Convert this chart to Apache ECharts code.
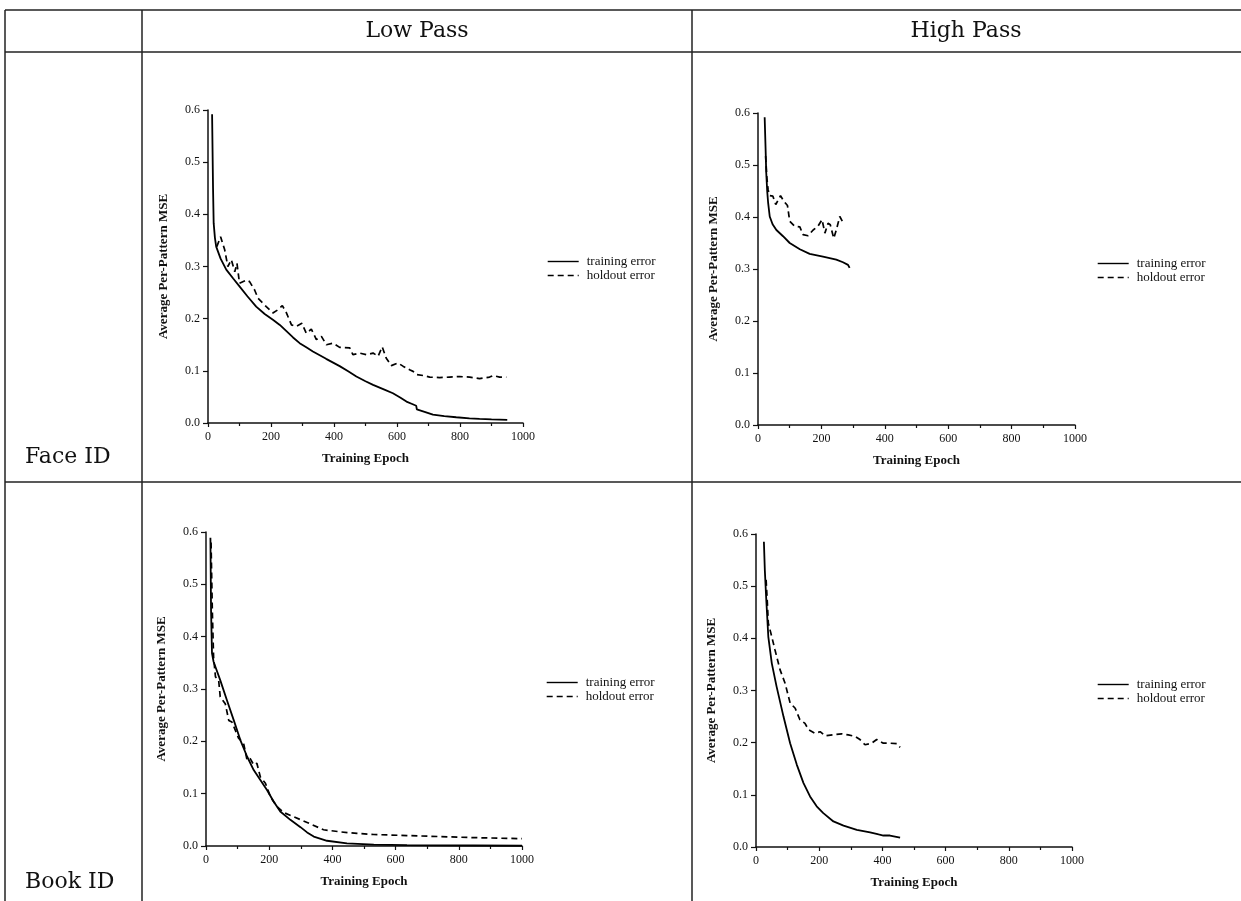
<!DOCTYPE html>
<html>
<head>
<meta charset="utf-8">
<script src="https://cdn.jsdelivr.net/npm/echarts@6/dist/echarts.min.js"></script>
<style>
html,body{margin:0;padding:0;background:#fff;}
#c{width:1241px;height:901px;}
</style>
</head>
<body>
<div id="c"></div>
<script>
// ---- data (epoch, average per-pattern MSE) ----
const colHeaders = ['Low Pass', 'High Pass'];
const rowHeaders = ['Face ID', 'Book ID'];
const seriesNames = ['training error', 'holdout error'];
const xTicks = [0, 200, 400, 600, 800, 1000];
const yTicks = [0.0, 0.1, 0.2, 0.3, 0.4, 0.5, 0.6];

const lowFaceTrain = [[13,0.592],[16,0.45],[18,0.383],[22,0.355],[26,0.338],[40,0.315],[58,0.294],[80,0.277],[100,0.262],[125,0.243],[153,0.223],[180,0.209],[206,0.198],[228,0.188],[249,0.176],[270,0.164],[291,0.153],[312,0.145],[333,0.137],[375,0.123],[418,0.109],[445,0.099],[471,0.089],[500,0.080],[524,0.073],[560,0.064],[587,0.057],[610,0.049],[630,0.041],[650,0.036],[661,0.033],[663,0.026],[690,0.021],[714,0.016],[750,0.013],[788,0.011],[830,0.009],[862,0.008],[900,0.007],[950,0.006]];
const lowFaceHold = [[28,0.338],[40,0.357],[53,0.332],[63,0.300],[74,0.313],[85,0.290],[92,0.306],[100,0.268],[122,0.274],[132,0.271],[148,0.255],[159,0.239],[185,0.223],[206,0.211],[222,0.217],[236,0.225],[249,0.211],[265,0.188],[280,0.185],[298,0.191],[312,0.172],[328,0.180],[344,0.160],[360,0.166],[376,0.150],[397,0.153],[418,0.145],[450,0.144],[460,0.131],[481,0.134],[503,0.131],[524,0.134],[540,0.128],[553,0.146],[566,0.124],[582,0.110],[603,0.115],[619,0.109],[640,0.102],[651,0.099],[661,0.093],[683,0.091],[704,0.088],[735,0.087],[767,0.088],[799,0.089],[831,0.088],[862,0.085],[894,0.088],[905,0.091],[926,0.088],[947,0.088]];

const highFaceTrain = [[21,0.592],[24,0.53],[26,0.485],[29,0.45],[32,0.427],[37,0.401],[46,0.386],[58,0.375],[79,0.363],[100,0.350],[132,0.338],[163,0.329],[205,0.324],[247,0.318],[268,0.313],[284,0.308],[289,0.302]];
const highFaceHold = [[24,0.517],[28,0.475],[32,0.452],[37,0.441],[47,0.440],[56,0.424],[71,0.441],[82,0.430],[93,0.422],[100,0.392],[116,0.382],[132,0.381],[142,0.366],[158,0.364],[174,0.375],[189,0.382],[202,0.395],[211,0.369],[221,0.388],[228,0.385],[239,0.359],[247,0.375],[258,0.401],[266,0.392],[274,0.388]];

const lowBookTrain = [[14,0.589],[16,0.45],[19,0.368],[24,0.352],[30,0.342],[45,0.317],[66,0.279],[88,0.240],[109,0.202],[130,0.171],[151,0.145],[172,0.126],[193,0.107],[214,0.085],[235,0.066],[267,0.050],[299,0.036],[320,0.026],[341,0.018],[383,0.010],[446,0.005],[531,0.0025],[636,0.0015],[847,0.001],[1000,0.0005]];
const lowBookHold = [[16,0.580],[20,0.45],[24,0.361],[30,0.323],[40,0.317],[45,0.285],[61,0.272],[72,0.240],[82,0.237],[93,0.221],[103,0.206],[119,0.196],[130,0.164],[140,0.167],[151,0.155],[161,0.158],[172,0.132],[188,0.120],[204,0.094],[225,0.075],[246,0.064],[277,0.056],[320,0.045],[372,0.031],[425,0.027],[478,0.024],[531,0.022],[636,0.020],[742,0.018],[847,0.016],[1000,0.014]];

const highBookTrain = [[25,0.585],[28,0.53],[32,0.480],[39,0.403],[50,0.352],[65,0.308],[87,0.250],[108,0.199],[129,0.158],[150,0.123],[171,0.097],[192,0.078],[213,0.065],[245,0.049],[277,0.041],[319,0.033],[361,0.028],[388,0.024],[403,0.022],[424,0.022],[456,0.018]];
const highBookHold = [[32,0.512],[36,0.467],[39,0.429],[50,0.403],[60,0.378],[76,0.340],[92,0.314],[108,0.276],[124,0.266],[139,0.244],[155,0.237],[166,0.225],[187,0.218],[203,0.221],[219,0.213],[245,0.215],[271,0.217],[292,0.215],[314,0.212],[329,0.206],[345,0.196],[366,0.199],[382,0.206],[403,0.199],[424,0.199],[446,0.198],[456,0.191]];

const panelData = [
  [lowFaceTrain, lowFaceHold],
  [highFaceTrain, highFaceHold],
  [lowBookTrain, lowBookHold],
  [highBookTrain, highBookHold]
];

// ---- layout ----
const grids = [
  {left: 208, top: 110, width: 315, height: 313},
  {left: 758, top: 113, width: 317, height: 312},
  {left: 206, top: 532, width: 316, height: 314},
  {left: 756, top: 534, width: 316, height: 313}
];
const legendPos = [
  {left: 547, top: 255},
  {left: 1097, top: 257},
  {left: 546, top: 676},
  {left: 1097, top: 678}
];

const serif = '"Liberation Serif", "Times New Roman", serif';
const ink = '#111';

const xAxes = [], yAxes = [], series = [], legends = [];
grids.forEach((g, i) => {
  xAxes.push({
    gridIndex: i, type: 'value', min: xTicks[0], max: xTicks[xTicks.length - 1], interval: 200,
    name: 'Training Epoch', nameLocation: 'middle', nameGap: 29,
    nameTextStyle: {fontFamily: serif, fontWeight: 'bold', fontSize: 13, color: ink},
    axisLine: {show: true, onZero: false, lineStyle: {color: ink, width: 1.5}},
    axisTick: {show: true, inside: false, length: 4, lineStyle: {color: ink, width: 1.2}},
    minorTick: {show: true, splitNumber: 2, length: 3, lineStyle: {color: ink, width: 1.2}},
    splitLine: {show: false},
    axisLabel: {fontFamily: serif, fontSize: 12, color: ink, margin: 8,
      formatter: v => String(v)}
  });
  yAxes.push({
    gridIndex: i, type: 'value', min: yTicks[0], max: yTicks[yTicks.length - 1], interval: 0.1,
    name: 'Average Per-Pattern MSE', nameLocation: 'middle', nameGap: 38, nameRotate: 90,
    nameTextStyle: {fontFamily: serif, fontWeight: 'bold', fontSize: 13, color: ink},
    axisLine: {show: true, onZero: false, lineStyle: {color: ink, width: 1.5}},
    axisTick: {show: true, inside: false, length: 5, lineStyle: {color: ink, width: 1.2}},
    splitLine: {show: false},
    axisLabel: {fontFamily: serif, fontSize: 12, color: ink, margin: 8,
      formatter: v => v.toFixed(1)}
  });
  series.push({
    name: seriesNames[0], type: 'line', xAxisIndex: i, yAxisIndex: i,
    data: panelData[i][0], symbol: 'none', showSymbol: false,
    lineStyle: {color: '#000', width: 1.8, type: 'solid'},
    itemStyle: {color: '#000'}
  });
  series.push({
    name: seriesNames[1], type: 'line', xAxisIndex: i, yAxisIndex: i,
    data: panelData[i][1], symbol: 'none', showSymbol: false,
    lineStyle: {color: '#000', width: 1.7, type: [6, 4]},
    itemStyle: {color: '#000'}
  });
  legends.push({
    left: legendPos[i].left, top: legendPos[i].top, orient: 'vertical',
    data: seriesNames, selectedMode: false,
    itemWidth: 31, itemHeight: 10, itemGap: 1,
    itemStyle: {opacity: 0, borderWidth: 0},
    lineStyle: {width: 1.4},
    textStyle: {fontFamily: serif, fontSize: 13, color: ink, padding: [0, 0, 0, 3]},
    padding: 0
  });
});

// ---- table frame ----
const lineStyle = {stroke: '#222', lineWidth: 1.5};
const headFont = '22px "DejaVu Serif", serif';
const frame = [
  {type: 'line', shape: {x1: 5, y1: 10, x2: 1241, y2: 10}, style: lineStyle},
  {type: 'line', shape: {x1: 5, y1: 52, x2: 1241, y2: 52}, style: lineStyle},
  {type: 'line', shape: {x1: 5, y1: 482, x2: 1241, y2: 482}, style: lineStyle},
  {type: 'line', shape: {x1: 5, y1: 10, x2: 5, y2: 901}, style: lineStyle},
  {type: 'line', shape: {x1: 142, y1: 10, x2: 142, y2: 901}, style: lineStyle},
  {type: 'line', shape: {x1: 692, y1: 10, x2: 692, y2: 901}, style: lineStyle},
  {type: 'text', x: 417, y: 31, style: {text: colHeaders[0], font: headFont, fill: ink, textAlign: 'center', textVerticalAlign: 'middle'}},
  {type: 'text', x: 966, y: 31, style: {text: colHeaders[1], font: headFont, fill: ink, textAlign: 'center', textVerticalAlign: 'middle'}},
  {type: 'text', x: 25, y: 457, style: {text: rowHeaders[0], font: headFont, fill: ink, textAlign: 'left', textVerticalAlign: 'middle'}},
  {type: 'text', x: 25, y: 882, style: {text: rowHeaders[1], font: headFont, fill: ink, textAlign: 'left', textVerticalAlign: 'middle'}}
];

const chart = echarts.init(document.getElementById('c'), null, {renderer: 'canvas'});
chart.setOption({
  animation: false,
  backgroundColor: '#fff',
  grid: grids,
  xAxis: xAxes,
  yAxis: yAxes,
  legend: legends,
  series: series,
  graphic: frame
});
</script>
</body>
</html>
